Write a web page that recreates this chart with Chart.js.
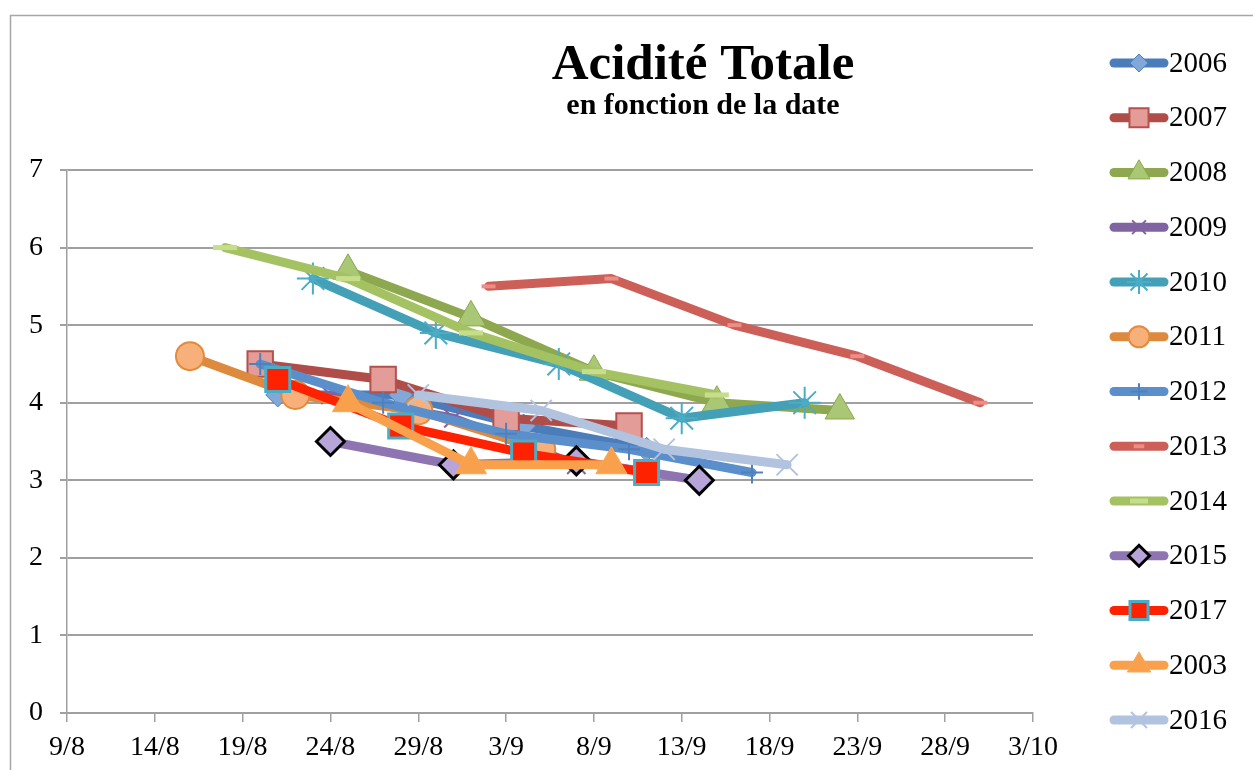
<!DOCTYPE html>
<html>
<head>
<meta charset="utf-8">
<script src="https://cdn.jsdelivr.net/npm/chart.js"></script>
<style>
  html, body { margin: 0; padding: 0; background: #fff; }
  canvas { display: block; }
</style>
</head>
<body>
<canvas id="myChart" width="1253" height="770"></canvas>
<script>
// Données (date jour/mois, acidité totale)
const seriesNames = ['2006', '2007', '2008', '2009', '2010', '2011', '2012', '2013', '2014', '2015', '2017', '2003', '2016'];

const dates2006 = ['21/8', '28/8', '4/9', '11/9'];
const vals2006 = [4.1, 4.1, 3.7, 3.4];
const dates2007 = ['20/8', '27/8', '3/9', '10/9'];
const vals2007 = [4.5, 4.3, 3.8, 3.7];
const dates2008 = ['25/8', '1/9', '8/9', '15/9', '22/9'];
const vals2008 = [5.7, 5.1, 4.4, 4.0, 3.9];
const dates2009 = ['24/8', '31/8', '7/9'];
const vals2009 = [4.1, 3.8, 3.2];
const dates2010 = ['23/8', '30/8', '6/9', '13/9', '20/9'];
const vals2010 = [5.6, 4.9, 4.5, 3.8, 4.0];
const dates2011 = ['16/8', '22/8', '29/8', '5/9'];
const vals2011 = [4.6, 4.1, 3.9, 3.4];
const dates2012 = ['20/8', '27/8', '3/9', '10/9', '17/9'];
const vals2012 = [4.5, 4.0, 3.6, 3.4, 3.1];
const dates2013 = ['2/9', '9/9', '16/9', '23/9', '30/9'];
const vals2013 = [5.5, 5.6, 5.0, 4.6, 4.0];
const dates2014 = ['18/8', '25/8', '1/9', '8/9', '15/9'];
const vals2014 = [6.0, 5.6, 4.9, 4.4, 4.1];
const dates2015 = ['24/8', '31/8', '7/9', '14/9'];
const vals2015 = [3.5, 3.2, 3.25, 3.0];
const dates2017 = ['21/8', '28/8', '4/9', '11/9'];
const vals2017 = [4.3, 3.7, 3.35, 3.1];
const dates2003 = ['25/8', '1/9', '9/9'];
const vals2003 = [4.0, 3.2, 3.2];
const dates2016 = ['29/8', '5/9', '12/9', '19/9'];
const vals2016 = [4.1, 3.9, 3.4, 3.2];

const xTickLabels = ['9/8', '14/8', '19/8', '24/8', '29/8', '3/9', '8/9', '13/9', '18/9', '23/9', '28/9', '3/10'];
const yTickLabels = ['0', '1', '2', '3', '4', '5', '6', '7'];

// jours écoulés depuis le 9/8
function toDay(s) {
    const p = s.split('/').map(Number);
    const base = new Date(2000, 7, 9);
    return Math.round((new Date(2000, p[1] - 1, p[0]) - base) / 864e5);
}
function pts(dates, vals) {
    return dates.map((d, i) => ({ x: toDay(d), y: vals[i] }));
}

const allDates = [dates2006, dates2007, dates2008, dates2009, dates2010, dates2011, dates2012, dates2013, dates2014, dates2015, dates2017, dates2003, dates2016];
const allVals = [vals2006, vals2007, vals2008, vals2009, vals2010, vals2011, vals2012, vals2013, vals2014, vals2015, vals2017, vals2003, vals2016];

// styles des séries (ligne, marqueur)
const styles = [
    { line: '#4A7DBA', style: 'rectRot', r: 12, fill: '#82A8DA', border: '#4F81BD', bw: 1 },
    { line: '#B04D49', style: 'rect', r: 18, fill: '#E49C99', border: '#B5504C', bw: 2 },
    { line: '#8DA84E', style: 'triangle', r: 17, fill: '#A9C774', border: '#8AA84F', bw: 1 },
    { line: '#7F64A1', style: 'crossRot', r: 13, fill: '#8064A2', border: '#8064A2', bw: 2 },
    { line: '#43A0B7', style: 'star', r: 16, fill: '#4BACC6', border: '#4BACC6', bw: 2 },
    { line: '#DE8A3E', style: 'circle', r: 14, fill: '#F8B07A', border: '#E38B3D', bw: 2 },
    { line: '#5A8FCB', style: 'cross', r: 11, fill: '#4F81BD', border: '#4F81BD', bw: 2 },
    { line: '#CD5F59', style: 'line', r: 7, fill: '#EC8D86', border: '#EC8D86', bw: 4 },
    { line: '#A5C263', style: 'line', r: 12, fill: '#C6DD8C', border: '#C6DD8C', bw: 5 },
    { line: '#8E74B0', style: 'rectRot', r: 14, fill: '#B7A4D9', border: '#000000', bw: 3 },
    { line: '#FF2200', style: 'rect', r: 17, fill: '#FF2200', border: '#4BACC6', bw: 3 },
    { line: '#F9A04C', style: 'triangle', r: 18, fill: '#F9A04C', border: '#F6A85C', bw: 1 },
    { line: '#B1C3DF', style: 'crossRot', r: 15, fill: '#B1C3DF', border: '#B1C3DF', bw: 2 }
];

const n = seriesNames.length;
const datasets = seriesNames.map((name, i) => ({
    label: name,
    data: pts(allDates[i], allVals[i]),
    borderColor: styles[i].line,
    borderWidth: 9,
    borderCapStyle: 'round',
    borderJoinStyle: 'round',
    pointStyle: styles[i].style,
    pointRadius: styles[i].r,
    pointBackgroundColor: styles[i].fill,
    pointBorderColor: styles[i].border,
    pointBorderWidth: styles[i].bw,
    tension: 0,
    order: n - i
}));

const serif = "'Liberation Serif', 'DejaVu Serif', serif";

const decor = {
    id: 'decor',
    afterDraw(chart) {
        const ctx = chart.ctx;
        ctx.save();
        // cadre
        ctx.strokeStyle = '#A6A6A6';
        ctx.lineWidth = 1.5;
        ctx.strokeRect(10.5, 15.5, 1400, 900);
        // titre
        ctx.fillStyle = '#000';
        ctx.textAlign = 'center';
        ctx.textBaseline = 'alphabetic';
        ctx.font = 'bold 51px ' + serif;
        ctx.fillText('Acidité Totale', 703, 79);
        ctx.font = 'bold 30px ' + serif;
        ctx.fillText('en fonction de la date', 703, 114);
        // légende
        ctx.textAlign = 'left';
        ctx.textBaseline = 'middle';
        ctx.font = '29px ' + serif;
        seriesNames.forEach((name, i) => {
            const y = 63 + i * 54.75;
            const st = styles[i];
            ctx.strokeStyle = st.line;
            ctx.lineWidth = 9;
            ctx.lineCap = 'round';
            ctx.beginPath();
            ctx.moveTo(1114, y);
            ctx.lineTo(1164, y);
            ctx.stroke();
            ctx.fillStyle = st.fill;
            ctx.strokeStyle = st.border;
            ctx.lineWidth = st.bw;
            ctx.lineCap = 'butt';
            if (Chart.helpers && Chart.helpers.drawPoint) {
                Chart.helpers.drawPoint(ctx, { pointStyle: st.style, rotation: 0, radius: st.r * 0.75, borderWidth: st.bw }, 1139, y);
            }
            ctx.fillStyle = '#000';
            ctx.fillText(name, 1169, y + 1);
        });
        ctx.restore();
    }
};

const ctx = document.getElementById('myChart').getContext('2d');
const myChart = new Chart(ctx, {
    type: 'line',
    data: { datasets: datasets },
    options: {
        responsive: false,
        animation: false,
        devicePixelRatio: 1,
        layout: { padding: { left: 0, right: 220, top: 170, bottom: 0 } },
        plugins: {
            legend: { display: false },
            title: { display: false },
            tooltip: { enabled: false }
        },
        scales: {
            x: {
                type: 'linear',
                min: 0,
                max: 55,
                afterFit(scale) { scale.height = 57; },
                border: { color: '#A0A0A0', width: 2 },
                grid: { drawOnChartArea: false, color: '#A0A0A0', lineWidth: 1.5, tickLength: 9 },
                ticks: {
                    stepSize: 5,
                    autoSkip: false,
                    maxRotation: 0,
                    padding: 9,
                    color: '#000',
                    font: { family: serif, size: 28 },
                    callback: v => xTickLabels[Math.round(v / 5)]
                }
            },
            y: {
                min: 0,
                max: 7,
                afterFit(scale) { scale.width = 67; },
                border: { color: '#A0A0A0', width: 1.5 },
                grid: { color: '#A0A0A0', lineWidth: 2, tickLength: 7 },
                ticks: {
                    stepSize: 1,
                    padding: 17,
                    color: '#000',
                    font: { family: serif, size: 28 },
                    callback: v => yTickLabels[v]
                }
            }
        }
    },
    plugins: [decor]
});
</script>
</body>
</html>
